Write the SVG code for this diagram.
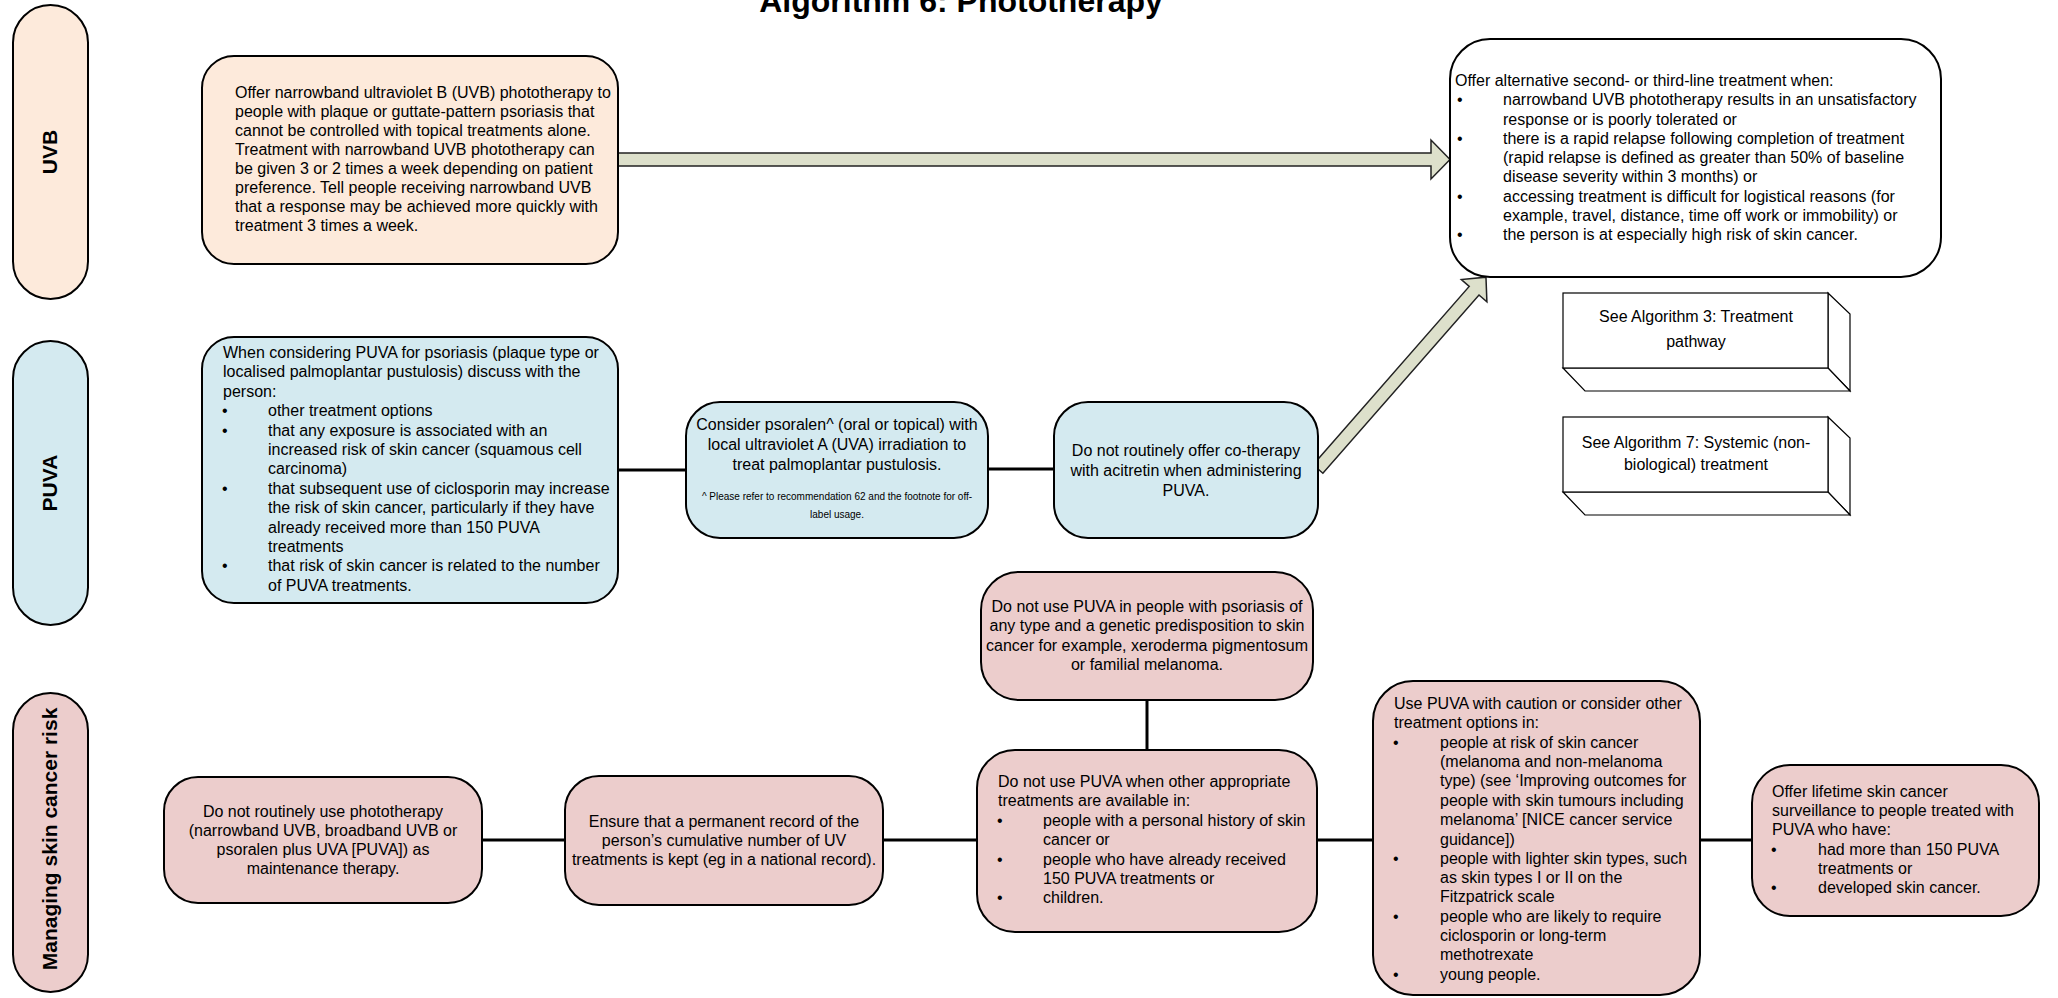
<svg xmlns="http://www.w3.org/2000/svg" width="2058" height="998" viewBox="0 0 2058 998">
<style>
text{font-family:"Liberation Sans",Arial,sans-serif;font-size:16px;fill:#000}
.title{font-size:32px;font-weight:bold}
.lane{font-size:21px;font-weight:bold}
.small{font-size:10px}
.c{text-anchor:middle}
.box{stroke:#000;stroke-width:2}
.uvb{fill:#fdeadb}
.puva{fill:#d4eaf0}
.risk{fill:#eccdcc}
.white{fill:#fff}
.conn{stroke:#000;stroke-width:3;fill:none}
.arrow{fill:#dde0cb;stroke:#222;stroke-width:1.5;stroke-linejoin:miter}
.cube{fill:#fff;stroke:#000;stroke-width:1.2}
</style>
<rect width="2058" height="998" fill="#fff"/>
<text class="title c" x="961" y="12">Algorithm 6: Phototherapy</text>

<g id="lane-uvb">
<rect class="box uvb" x="13" y="5" width="75" height="294" rx="37.5"/>
<text class="lane c" transform="translate(57,152) rotate(-90)">UVB</text>
</g>
<g id="lane-puva">
<rect class="box puva" x="13" y="341" width="75" height="284" rx="37.5"/>
<text class="lane c" transform="translate(57,483) rotate(-90)">PUVA</text>
</g>
<g id="lane-risk">
<rect class="box risk" x="13" y="693" width="75" height="299" rx="37.5"/>
<text class="lane c" transform="translate(57,839) rotate(-90)">Managing skin cancer risk</text>
</g>

<g id="connectors">
<line class="conn" x1="618" y1="470" x2="686" y2="470"/>
<line class="conn" x1="988" y1="469" x2="1054" y2="469"/>
<line class="conn" x1="482" y1="840" x2="565" y2="840"/>
<line class="conn" x1="883" y1="840" x2="977" y2="840"/>
<line class="conn" x1="1147" y1="700" x2="1147" y2="750"/>
<line class="conn" x1="1317" y1="840" x2="1373" y2="840"/>
<line class="conn" x1="1700" y1="840" x2="1752" y2="840"/>
<polygon class="arrow" points="618,153 1431,153 1431,140 1450,159.5 1431,179 1431,166 618,166"/>
<polygon class="arrow" transform="translate(1318,469) rotate(-48.8)" points="0,-6.5 237,-6.5 237,-17 255,0 237,17 237,6.5 0,6.5"/>
</g>

<g id="uvb-offer">
<rect class="box uvb" x="202" y="56" width="416" height="208" rx="32"/>
<text x="235" y="98">Offer narrowband ultraviolet B (UVB) phototherapy to</text>
<text x="235" y="117">people with plaque or guttate-pattern psoriasis that</text>
<text x="235" y="136">cannot be controlled with topical treatments alone.</text>
<text x="235" y="155">Treatment with narrowband UVB phototherapy can</text>
<text x="235" y="174">be given 3 or 2 times a week depending on patient</text>
<text x="235" y="193">preference. Tell people receiving narrowband UVB</text>
<text x="235" y="212">that a response may be achieved more quickly with</text>
<text x="235" y="231">treatment 3 times a week.</text>
</g>

<g id="alt-treatment">
<rect class="box white" x="1450" y="39" width="491" height="238" rx="40"/>
<text x="1455" y="86">Offer alternative second- or third-line treatment when:</text>
<text x="1457" y="105.3">•</text><text x="1503" y="105.3">narrowband UVB phototherapy results in an unsatisfactory</text>
<text x="1503" y="124.5">response or is poorly tolerated or</text>
<text x="1457" y="143.8">•</text><text x="1503" y="143.8">there is a rapid relapse following completion of treatment</text>
<text x="1503" y="163">(rapid relapse is defined as greater than 50% of baseline</text>
<text x="1503" y="182.3">disease severity within 3 months) or</text>
<text x="1457" y="201.5">•</text><text x="1503" y="201.5">accessing treatment is difficult for logistical reasons (for</text>
<text x="1503" y="220.8">example, travel, distance, time off work or immobility) or</text>
<text x="1457" y="240">•</text><text x="1503" y="240">the person is at especially high risk of skin cancer.</text>
</g>

<g id="see-alg3">
<polygon class="cube" points="1828,293 1850,314 1850,391 1828,368"/>
<polygon class="cube" points="1563,368 1828,368 1850,391 1585,391"/>
<rect class="cube" x="1563" y="293" width="265" height="75"/>
<text class="c" x="1696" y="322">See Algorithm 3: Treatment</text>
<text class="c" x="1696" y="347">pathway</text>
</g>

<g id="see-alg7">
<polygon class="cube" points="1828,417 1850,438 1850,515 1828,492"/>
<polygon class="cube" points="1563,492 1828,492 1850,515 1585,515"/>
<rect class="cube" x="1563" y="417" width="265" height="75"/>
<text class="c" x="1696" y="448">See Algorithm 7: Systemic (non-</text>
<text class="c" x="1696" y="470">biological) treatment</text>
</g>

<g id="puva-discuss">
<rect class="box puva" x="202" y="337" width="416" height="266" rx="32"/>
<text x="223" y="358">When considering PUVA for psoriasis (plaque type or</text>
<text x="223" y="377.4">localised palmoplantar pustulosis) discuss with the</text>
<text x="223" y="396.8">person:</text>
<text x="222" y="416.2">•</text><text x="268" y="416.2">other treatment options</text>
<text x="222" y="435.6">•</text><text x="268" y="435.6">that any exposure is associated with an</text>
<text x="268" y="455">increased risk of skin cancer (squamous cell</text>
<text x="268" y="474.4">carcinoma)</text>
<text x="222" y="493.8">•</text><text x="268" y="493.8">that subsequent use of ciclosporin may increase</text>
<text x="268" y="513.2">the risk of skin cancer, particularly if they have</text>
<text x="268" y="532.6">already received more than 150 PUVA</text>
<text x="268" y="552">treatments</text>
<text x="222" y="571.4">•</text><text x="268" y="571.4">that risk of skin cancer is related to the number</text>
<text x="268" y="590.8">of PUVA treatments.</text>
</g>

<g id="consider-psoralen">
<rect class="box puva" x="686" y="402" width="302" height="136" rx="34"/>
<text class="c" x="837" y="430">Consider psoralen^ (oral or topical) with</text>
<text class="c" x="837" y="450">local ultraviolet A (UVA) irradiation to</text>
<text class="c" x="837" y="470">treat palmoplantar pustulosis.</text>
<text class="c small" x="837" y="500">^ Please refer to recommendation 62 and the footnote for off-</text>
<text class="c small" x="837" y="518">label usage.</text>
</g>

<g id="no-cotherapy">
<rect class="box puva" x="1054" y="402" width="264" height="136" rx="34"/>
<text class="c" x="1186" y="456">Do not routinely offer co-therapy</text>
<text class="c" x="1186" y="476">with acitretin when administering</text>
<text class="c" x="1186" y="496">PUVA.</text>
</g>

<g id="no-maintenance">
<rect class="box risk" x="164" y="777" width="318" height="126" rx="34"/>
<text class="c" x="323" y="817">Do not routinely use phototherapy</text>
<text class="c" x="323" y="836">(narrowband UVB, broadband UVB or</text>
<text class="c" x="323" y="855">psoralen plus UVA [PUVA]) as</text>
<text class="c" x="323" y="874">maintenance therapy.</text>
</g>

<g id="record">
<rect class="box risk" x="565" y="776" width="318" height="129" rx="34"/>
<text class="c" x="724" y="827">Ensure that a permanent record of the</text>
<text class="c" x="724" y="846">person’s cumulative number of UV</text>
<text class="c" x="724" y="865">treatments is kept (eg in a national record).</text>
</g>

<g id="genetic">
<rect class="box risk" x="981" y="572" width="332" height="128" rx="38"/>
<text class="c" x="1147" y="612">Do not use PUVA in people with psoriasis of</text>
<text class="c" x="1147" y="631">any type and a genetic predisposition to skin</text>
<text class="c" x="1147" y="651">cancer for example, xeroderma pigmentosum</text>
<text class="c" x="1147" y="670">or familial melanoma.</text>
</g>

<g id="no-puva-when">
<rect class="box risk" x="977" y="750" width="340" height="182" rx="38"/>
<text x="998" y="787">Do not use PUVA when other appropriate</text>
<text x="998" y="806">treatments are available in:</text>
<text x="997" y="826">•</text><text x="1043" y="826">people with a personal history of skin</text>
<text x="1043" y="845">cancer or</text>
<text x="997" y="865">•</text><text x="1043" y="865">people who have already received</text>
<text x="1043" y="884">150 PUVA treatments or</text>
<text x="997" y="903">•</text><text x="1043" y="903">children.</text>
</g>

<g id="caution">
<rect class="box risk" x="1373" y="681" width="327" height="314" rx="40"/>
<text x="1394" y="709">Use PUVA with caution or consider other</text>
<text x="1394" y="728">treatment options in:</text>
<text x="1393" y="748">•</text><text x="1440" y="748">people at risk of skin cancer</text>
<text x="1440" y="767">(melanoma and non-melanoma</text>
<text x="1440" y="786">type) (see ‘Improving outcomes for</text>
<text x="1440" y="806">people with skin tumours including</text>
<text x="1440" y="825">melanoma’ [NICE cancer service</text>
<text x="1440" y="845">guidance])</text>
<text x="1393" y="864">•</text><text x="1440" y="864">people with lighter skin types, such</text>
<text x="1440" y="883">as skin types I or II on the</text>
<text x="1440" y="902">Fitzpatrick scale</text>
<text x="1393" y="922">•</text><text x="1440" y="922">people who are likely to require</text>
<text x="1440" y="941">ciclosporin or long-term</text>
<text x="1440" y="960">methotrexate</text>
<text x="1393" y="980">•</text><text x="1440" y="980">young people.</text>
</g>

<g id="surveillance">
<rect class="box risk" x="1752" y="765" width="287" height="151" rx="38"/>
<text x="1772" y="797">Offer lifetime skin cancer</text>
<text x="1772" y="816">surveillance to people treated with</text>
<text x="1772" y="835">PUVA who have:</text>
<text x="1771" y="855">•</text><text x="1818" y="855">had more than 150 PUVA</text>
<text x="1818" y="874">treatments or</text>
<text x="1771" y="893">•</text><text x="1818" y="893">developed skin cancer.</text>
</g>
</svg>
